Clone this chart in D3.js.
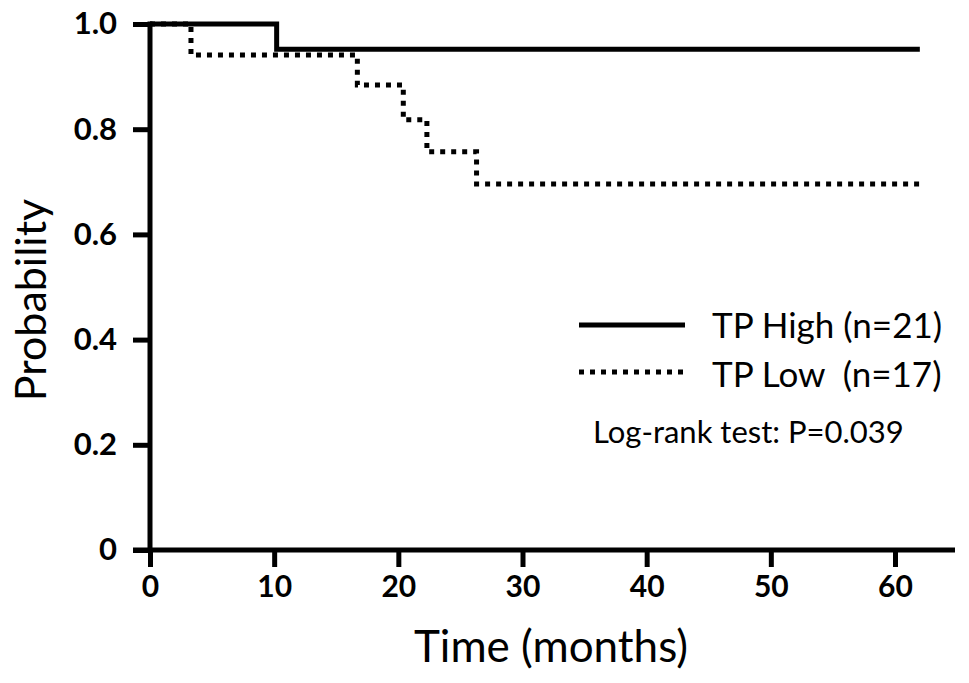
<!DOCTYPE html>
<html>
<head>
<meta charset="utf-8">
<script src="https://cdn.jsdelivr.net/npm/d3@7"></script>
<style>
html,body{margin:0;padding:0;background:#fff;}
svg{display:block;}
text{font-family:Lato,"Open Sans",sans-serif;fill:#000;}
</style>
</head>
<body>
<svg id="chart" width="969" height="683"></svg>
<script>
// Data
const highTimes = [0, 10.2, 62];
const highSurv  = [1.0, 0.952, 0.952];
const lowTimes  = [0, 3.3, 16.7, 20.4, 22.3, 26.3, 62];
const lowSurv   = [1.0, 0.941, 0.884, 0.818, 0.757, 0.696, 0.696];
const xTicks = [0, 10, 20, 30, 40, 50, 60];
const yTicks = [0, 0.2, 0.4, 0.6, 0.8, 1.0];
const yTickLabels = ["0", "0.2", "0.4", "0.6", "0.8", "1.0"];
const legendLabels = ["TP High (n=21)", "TP Low  (n=17)"];
const statText = "Log-rank test: P=0.039";

const svg = d3.select("#chart");
const x = d3.scaleLinear().domain([0, 60]).range([150, 895]);
const y = d3.scaleLinear().domain([0, 1]).range([550, 24]);

// Axes
const xAxis = d3.axisBottom(x).tickValues(xTicks).tickSize(17).tickSizeOuter(0).tickPadding(9).tickFormat(d3.format("d"));
const gx = svg.append("g").attr("transform", "translate(0,550)").call(xAxis);
gx.select(".domain").remove();
gx.append("line").attr("x1", 133).attr("x2", 955).attr("y1", 0).attr("y2", 0).attr("stroke", "#000").attr("stroke-width", 5);
gx.selectAll(".tick line").attr("stroke", "#000").attr("stroke-width", 5);
gx.selectAll(".tick text").attr("font-size", 30).attr("font-weight", "bold").attr("fill", "#000")
  .style("font-family", "Lato, sans-serif");

const yAxis = d3.axisLeft(y).tickValues(yTicks).tickSize(17).tickSizeOuter(0).tickPadding(16)
  .tickFormat((d, i) => yTickLabels[i]);
const gy = svg.append("g").attr("transform", "translate(150,0)").call(yAxis);
gy.select(".domain").remove();
gy.append("line").attr("x1", 0).attr("x2", 0).attr("y1", y(1) - 2.5).attr("y2", 552).attr("stroke", "#000").attr("stroke-width", 5);
gy.selectAll(".tick line").attr("stroke", "#000").attr("stroke-width", 5);
gy.selectAll(".tick text").attr("font-size", 31).attr("font-weight", "bold").attr("fill", "#000")
  .style("font-family", "Lato, sans-serif");

// Axis titles
svg.append("text").attr("x", 551).attr("y", 662).attr("text-anchor", "middle")
  .attr("font-size", 44).text("Time (months)");
svg.append("text").attr("transform", "translate(46,300) rotate(-90)").attr("text-anchor", "middle")
  .attr("font-size", 43).text("Probability");

// Curves
const line = d3.line().x(d => x(d[0])).y(d => y(d[1])).curve(d3.curveStepAfter);
const highData = highTimes.map((t, i) => [t, highSurv[i]]);
const lowData = lowTimes.map((t, i) => [t, lowSurv[i]]);

svg.append("path").datum(lowData).attr("d", line).attr("fill", "none")
  .attr("stroke", "#000").attr("stroke-width", 5).attr("stroke-dasharray", "5,6");
svg.append("path").datum(highData).attr("d", line).attr("fill", "none")
  .attr("stroke", "#000").attr("stroke-width", 5);

// Legend
const leg = svg.append("g");
leg.append("line").attr("x1", 579).attr("x2", 685).attr("y1", 325).attr("y2", 325)
  .attr("stroke", "#000").attr("stroke-width", 5);
leg.append("line").attr("x1", 579).attr("x2", 685).attr("y1", 372).attr("y2", 372)
  .attr("stroke", "#000").attr("stroke-width", 5).attr("stroke-dasharray", "5,6");
leg.append("text").attr("x", 712).attr("y", 338).attr("font-size", 35).style("white-space", "pre").text(legendLabels[0]);
leg.append("text").attr("x", 712).attr("y", 387).attr("font-size", 35).style("white-space", "pre").text(legendLabels[1]);
svg.append("text").attr("x", 593).attr("y", 443).attr("font-size", 31).text(statText);
</script>
</body>
</html>
